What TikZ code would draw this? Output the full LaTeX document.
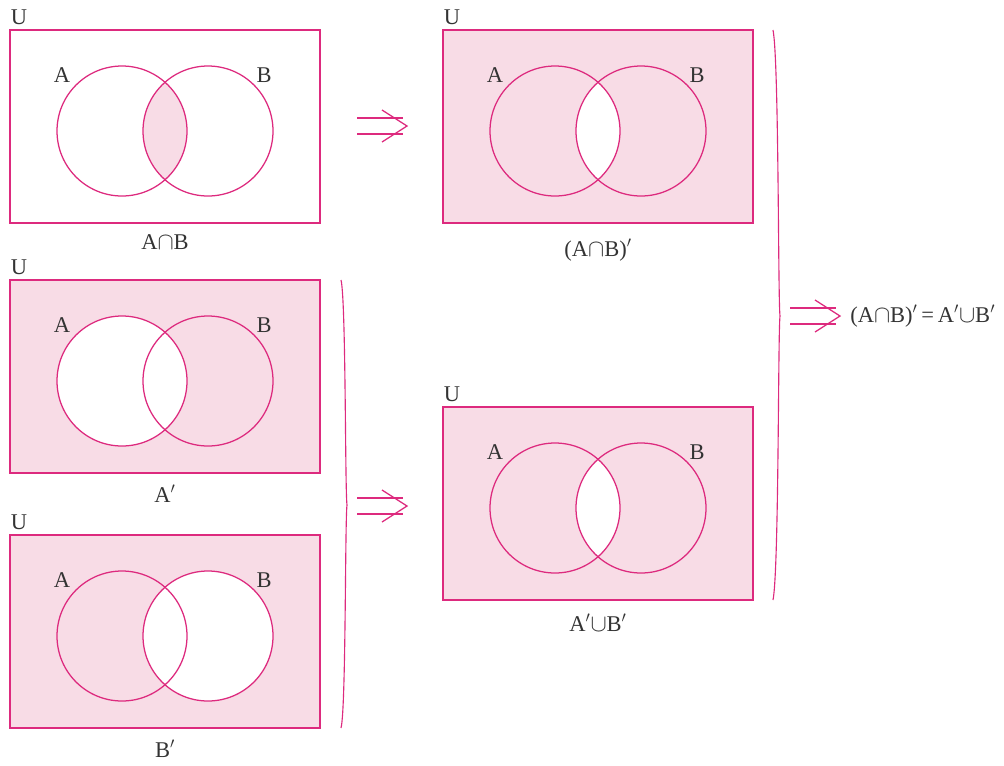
\documentclass[tikz,border=0pt]{standalone}
\usepackage{fontspec}
\setmainfont{Liberation Serif}
\usetikzlibrary{positioning}
\definecolor{vline}{HTML}{DD2A7E}
\definecolor{vfill}{HTML}{F8DCE6}
\definecolor{vtext}{HTML}{333333}

\tikzset{
  box/.style={draw=vline,line width=1.5pt},
  ring/.style={draw=vline,line width=0.9pt},
  lbl/.style={font=\fontsize{16}{18}\selectfont,text=vtext,inner sep=0pt},
  brace/.style={draw=vline,line width=0.8pt},
  implies/.pic={
    \draw[vline,line width=0.9pt] (0,-8) -- (46,-8) (0,8) -- (46,8);
    \draw[vline,line width=0.9pt] (25,-16) -- (50,0) -- (25,16);
  }
}

% box outline, circles and letters; #3 names the nodes
\newcommand\vennbox[3]{%
  \draw[box] (#1,#2) rectangle ++(310,193);
  \draw[ring] (#1+112,#2+101) circle[radius=65];
  \draw[ring] (#1+198,#2+101) circle[radius=65];
  \node[lbl] (#3U) at (#1+9,#2-13) {U};
  \node[lbl] (#3A) at (#1+52,#2+45) {A};
  \node[lbl] (#3B) at (#1+254,#2+45) {B};
}

\begin{document}
\begin{tikzpicture}[x=0.025cm,y=-0.025cm]
  \useasboundingbox (0,0) rectangle (1004,765);

  % A cap B
  \begin{scope}
    \clip (122,131) circle[radius=65];
    \fill[vfill] (208,131) circle[radius=65];
  \end{scope}
  \vennbox{10}{30}{p}
  \node[lbl] (pcap) at (165,242) {A$\cap$B};

  % (A cap B)'
  \fill[vfill] (443,30) rectangle ++(310,193);
  \begin{scope}
    \clip (555,131) circle[radius=65];
    \fill[white] (641,131) circle[radius=65];
  \end{scope}
  \vennbox{443}{30}{q}
  \node[lbl] (qcap) at (598,250) {(A$\cap$B)$'$};

  % A'
  \fill[vfill] (10,280) rectangle ++(310,193);
  \fill[white] (122,381) circle[radius=65];
  \vennbox{10}{280}{r}
  \node[lbl] (rcap) at (165,494) {A$'$};

  % B'
  \fill[vfill] (10,535) rectangle ++(310,193);
  \fill[white] (208,636) circle[radius=65];
  \vennbox{10}{535}{s}
  \node[lbl] (scap) at (165,749) {B$'$};

  % A' cup B'
  \fill[vfill] (443,407) rectangle ++(310,193);
  \begin{scope}
    \clip (555,508) circle[radius=65];
    \fill[white] (641,508) circle[radius=65];
  \end{scope}
  \vennbox{443}{407}{t}
  \node[lbl] (tcap) at (598,623) {A$'\cup$B$'$};

  % braces
  \draw[brace] (341,280) .. controls (346,300) and (345,490) .. (347,505)
               .. controls (345,520) and (346,710) .. (341,728);
  \draw[brace] (773,30) .. controls (779,60) and (778,300) .. (780,316)
               .. controls (778,332) and (779,570) .. (773,600);

  % arrows
  \pic at (357,126) {implies};
  \pic at (357,506) {implies};
  \pic at (790,316) {implies};
  \node[lbl,anchor=west] (result) at (850,316) {(A$\cap$B)$'$\,=\,A$'\cup$B$'$};
\end{tikzpicture}
\end{document}
